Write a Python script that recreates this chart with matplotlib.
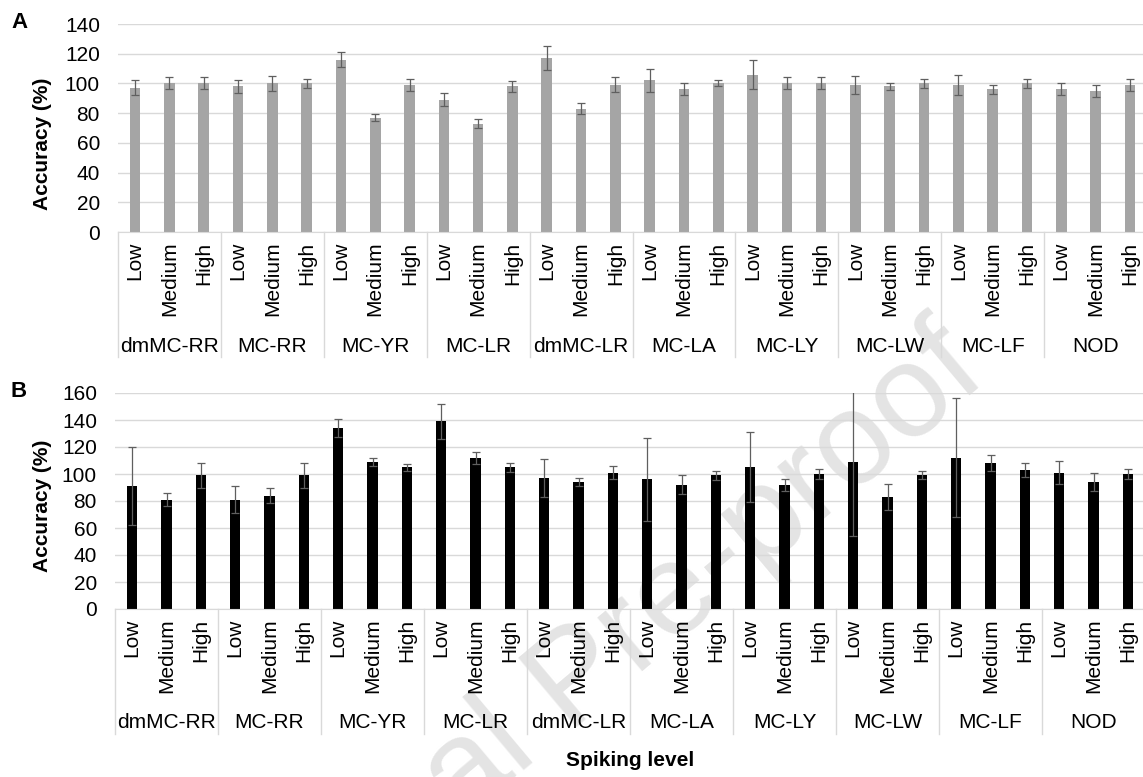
import numpy as np
import matplotlib
matplotlib.use('Agg')
import matplotlib.pyplot as plt
from matplotlib.transforms import blended_transform_factory

plt.rcParams['font.family'] = ['Liberation Sans', 'DejaVu Sans']

# sample groups and spiking levels
groups = ['dmMC-RR', 'MC-RR', 'MC-YR', 'MC-LR', 'dmMC-LR',
          'MC-LA', 'MC-LY', 'MC-LW', 'MC-LF', 'NOD']
levels = ['Low', 'Medium', 'High']

# panel A: accuracy (%) and error, ordered group by group (Low, Medium, High)
acc_a = [97, 100, 100, 98, 100, 100, 116, 77, 99, 89, 73, 98, 117, 83, 99,
         102, 96, 100, 106, 100, 100, 99, 98, 100, 99, 96, 100, 96, 95, 99]
err_a = [5, 4, 4, 4.5, 5, 3, 5, 2.5, 4, 4.5, 3, 3.5, 8, 3.5, 5,
         7.5, 4, 2, 10, 4, 4, 6, 2.5, 3, 7, 3, 3, 4, 4, 4]

# panel B
acc_b = [91, 81, 99, 81, 84, 99, 134, 109, 105, 139, 112, 105, 97, 94, 101,
         96, 92, 99, 105, 92, 100, 109, 83, 99, 112, 108, 103, 101, 94, 100]
err_b = [29, 5, 9.5, 10, 5.5, 9, 6.5, 3, 2.5, 13, 4.5, 3.5, 14, 3, 5,
         31, 7, 3.5, 26, 4.5, 3.5, 55, 9.5, 3, 44, 6, 5.5, 8.5, 6.5, 4]

W, H = 1143, 777
fig = plt.figure(figsize=(W / 100, H / 100), dpi=100)
fig.patch.set_facecolor('white')

# faint watermark behind everything (mostly runs off the bottom edge)
fig.text(209 / W, 1 - 1035 / H, 'Journal Pre-proof', rotation=40,
         rotation_mode='anchor', ha='left', va='baseline', fontsize=95,
         color='#e4e4e4', zorder=-1)


def draw_panel(rect, values, errors, color, ymax):
    ax = fig.add_axes(rect)
    ax.set_facecolor('none')
    x = np.arange(len(values))
    ax.bar(x, values, width=0.31, color=color, zorder=2)
    ax.errorbar(x, values, yerr=errors, fmt='none', ecolor='#5f5f5f',
                elinewidth=0.9, capsize=3, capthick=0.9, zorder=3)
    ax.set_xlim(-0.5, len(values) - 0.5)
    ax.set_ylim(0, ymax)
    ax.set_yticks(np.arange(0, ymax + 1, 20))
    ax.yaxis.grid(True, color='#d9d9d9', lw=1.0)
    ax.set_axisbelow(True)
    for s in ['top', 'right', 'left']:
        ax.spines[s].set_visible(False)
    ax.spines['bottom'].set_color('#d9d9d9')
    ax.tick_params(axis='y', length=0, pad=13, labelsize=15)
    ax.set_xticks(x)
    ax.set_xticklabels(levels * len(groups), rotation=90)
    ax.tick_params(axis='x', length=0, pad=7, labelsize=15)

    # group separators and names under the level labels
    trans = blended_transform_factory(ax.transData, ax.transAxes)
    h_px = rect[3] * H
    for g in range(len(groups) + 1):
        ax.plot([g * 3 - 0.5] * 2, [0, -125 / h_px], transform=trans,
                color='#d9d9d9', lw=1.0, clip_on=False)
    for g, name in enumerate(groups):
        ax.text(g * 3 + 1, -114 / h_px, name, transform=trans,
                ha='center', va='center', fontsize=15)
    return ax


ax_a = draw_panel([118 / W, 1 - 232 / H, 1029 / W, 208 / H],
                  acc_a, err_a, '#a5a5a5', 140)
ax_b = draw_panel([115 / W, 1 - 609 / H, 1030 / W, 216 / H],
                  acc_b, err_b, 'black', 160)

fig.text(43 / W, 1 - 144 / H, 'Accuracy (%)', rotation=90, fontsize=15,
         weight='bold', ha='center', va='center')
fig.text(43 / W, 1 - 506 / H, 'Accuracy (%)', rotation=90, fontsize=15,
         weight='bold', ha='center', va='center')
fig.text(19 / W, 1 - 22 / H, 'A', fontsize=16, weight='bold',
         ha='center', va='center')
fig.text(19 / W, 1 - 392 / H, 'B', fontsize=16, weight='bold',
         ha='center', va='center')
fig.text(630 / W, 1 - 760 / H, 'Spiking level', fontsize=15,
         weight='bold', ha='center', va='center')

fig.savefig('out.png', dpi=100)
